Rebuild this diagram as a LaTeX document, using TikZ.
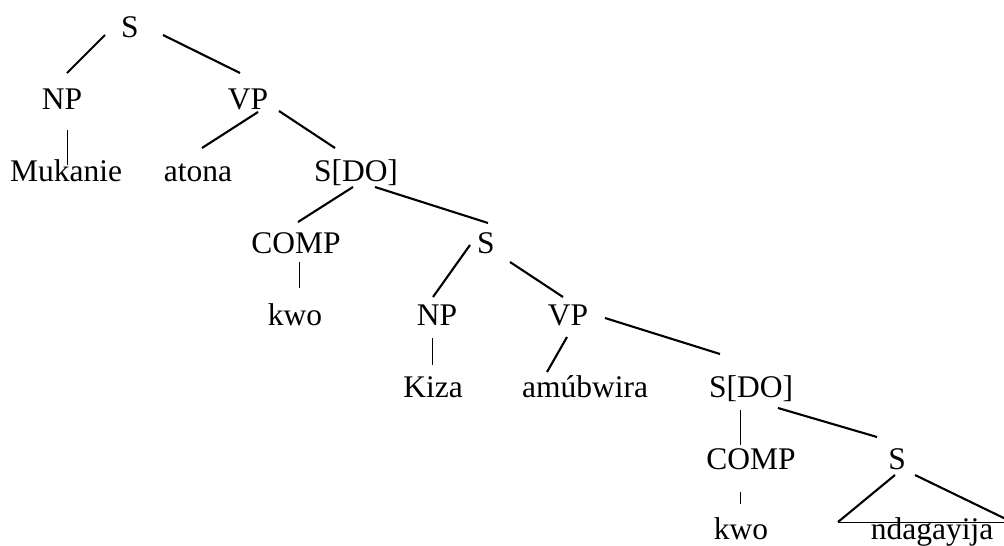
\documentclass[tikz,border=0pt]{standalone}
\usepackage{fontspec}
\setmainfont{Liberation Serif}
\begin{document}
\begin{tikzpicture}[x=1pt,y=-1pt,
  lbl/.style={anchor=base,inner sep=0pt,font=\fontsize{31.5}{37}\selectfont},
  edge/.style={line width=2.1pt},
  stem/.style={line width=1pt},
  ]
\useasboundingbox (0,0) rectangle (1004,546);
% tree labels, placed on their baselines
\node[lbl] (s0)    at (130,37)  {S};
\node[lbl] (np1)   at (62,109)  {NP};
\node[lbl] (vp1)   at (248,109) {VP};
\node[lbl] (muk)   at (66,181)  {Mukanie};
\node[lbl] (atona) at (198,181) {atona};
\node[lbl] (sdo1)  at (356,181) {S[DO]};
\node[lbl] (comp1) at (296,253) {COMP};
\node[lbl] (s2)    at (486,253) {S};
\node[lbl] (kwo1)  at (295,325) {kwo};
\node[lbl] (np2)   at (437,325) {NP};
\node[lbl] (vp2)   at (568,325) {VP};
\node[lbl] (kiza)  at (433,397) {Kiza};
\node[lbl] (amu)   at (585,397) {amúbwira};
\node[lbl] (sdo2)  at (751,397) {S[DO]};
\node[lbl] (comp2) at (751,469) {COMP};
\node[lbl] (s3)    at (897,469) {S};
\node[lbl] (kwo2)  at (741,539) {kwo};
\node[lbl] (nda)   at (932,539) {ndagayija};
% corners of the triangle over the unanalysed clause
\coordinate (triL) at ([shift={(-94,-17)}]nda.base);
\coordinate (triR) at ([shift={(80,-17)}]nda.base);
% branches
\draw[edge] ([shift={(-25,-2)}]s0.base) -- ([shift={(5,-36)}]np1.base);
\draw[edge] ([shift={(33,-2)}]s0.base) -- ([shift={(-8,-36)}]vp1.base);
\draw[stem] ([shift={(5,21)}]np1.base) -- ([shift={(1,-16)}]muk.base);
\draw[edge] ([shift={(10,3)}]vp1.base) -- ([shift={(4,-33)}]atona.base);
\draw[edge] ([shift={(31,2)}]vp1.base) -- ([shift={(-21,-33)}]sdo1.base);
\draw[edge] ([shift={(-3,6)}]sdo1.base) -- ([shift={(2,-31)}]comp1.base);
\draw[edge] ([shift={(19,6)}]sdo1.base) -- ([shift={(2,-30)}]s2.base);
\draw[stem] ([shift={(3,9)}]comp1.base) -- ([shift={(4,-37)}]kwo1.base);
\draw[edge] ([shift={(-16,-8)}]s2.base) -- ([shift={(-4,-28)}]np2.base);
\draw[edge] ([shift={(24,9)}]s2.base) -- ([shift={(-5,-28)}]vp2.base);
\draw[stem] ([shift={(-5,13)}]np2.base) -- ([shift={(-1,-32)}]kiza.base);
\draw[edge] ([shift={(-1,12)}]vp2.base) -- ([shift={(-38,-25)}]amu.base);
\draw[edge] ([shift={(37,-7)}]vp2.base) -- ([shift={(-31,-43)}]sdo2.base);
\draw[stem] ([shift={(-11,13)}]sdo2.base) -- ([shift={(-11,-24)}]comp2.base);
\draw[edge] ([shift={(27,11)}]sdo2.base) -- ([shift={(-20,-32)}]s3.base);
\draw[stem] ([shift={(-11,23)}]comp2.base) -- ([shift={(-1,-35)}]kwo2.base);
\draw[edge] ([shift={(-2,6)}]s3.base) -- (triL);
\draw[edge] ([shift={(18,6)}]s3.base) -- (triR);
\draw[stem] (triL) -- (triR);
\end{tikzpicture}
\end{document}
